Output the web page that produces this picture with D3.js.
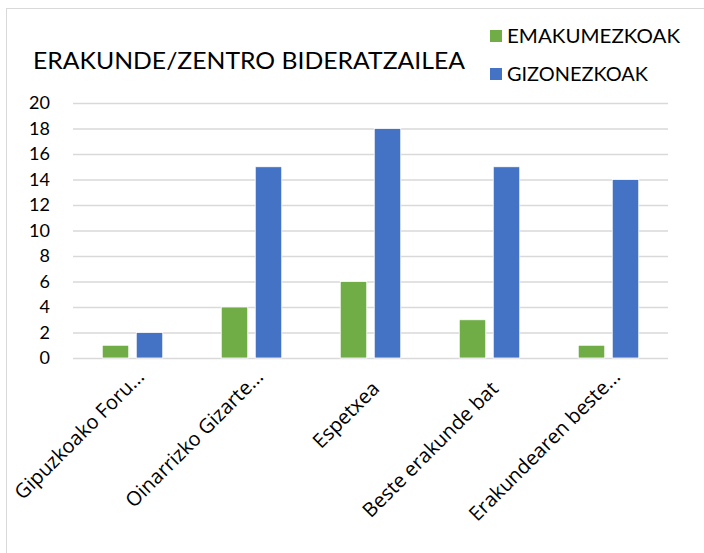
<!DOCTYPE html>
<html>
<head>
<meta charset="utf-8">
<script src="https://cdn.jsdelivr.net/npm/d3@7"></script>
<style>
  body { margin: 0; background: #fff; }
  .lato { font-family: Lato, sans-serif; }
</style>
</head>
<body>
<div id="chart"></div>
<script>
// Data
const categories = ["Gipuzkoako Foru...", "Oinarrizko Gizarte...", "Espetxea", "Beste erakunde bat", "Erakundearen beste..."];
const seriesNames = ["EMAKUMEZKOAK", "GIZONEZKOAK"];
const emakumezkoak = [1, 4, 6, 3, 1];
const gizonezkoak = [2, 15, 18, 15, 14];
const yTicks = [0, 2, 4, 6, 8, 10, 12, 14, 16, 18, 20];
const colors = ["#70AD47", "#4472C4"];

const W = 704, H = 553;
const margin = { top: 103, right: 36, bottom: 195, left: 73 };
const width = W - margin.left - margin.right;
const height = H - margin.top - margin.bottom;

const svg = d3.select("#chart").append("svg")
    .attr("width", W)
    .attr("height", H);

// chart frame
svg.append("rect")
    .attr("x", 6.5).attr("y", 8.5)
    .attr("width", W + 10).attr("height", H + 10)
    .attr("fill", "none")
    .attr("stroke", "#d9d9d9");

// title
svg.append("text")
    .attr("class", "lato")
    .attr("x", 33).attr("y", 69)
    .attr("font-size", 23)
    .attr("textLength", 432)
    .attr("lengthAdjust", "spacingAndGlyphs")
    .text("ERAKUNDE/ZENTRO BIDERATZAILEA");

// legend
const legendWidths = [173, 141];
const legend = svg.append("g");
seriesNames.forEach((name, i) => {
    const yy = 36 + i * 38;
    legend.append("rect")
        .attr("x", 490).attr("y", yy - 6)
        .attr("width", 12).attr("height", 12)
        .attr("fill", colors[i]);
    legend.append("text")
        .attr("class", "lato")
        .attr("x", 507).attr("y", yy)
        .attr("dy", "0.36em")
        .attr("font-size", 19)
        .attr("textLength", legendWidths[i])
        .attr("lengthAdjust", "spacingAndGlyphs")
        .text(name);
});

const g = svg.append("g")
    .attr("transform", `translate(${margin.left},${margin.top})`);

const x = d3.scaleBand()
    .domain(categories)
    .range([0, width])
    .paddingInner(0)
    .paddingOuter(0);

const y = d3.scaleLinear()
    .domain([0, 20])
    .range([height, 0]);

// gridlines
g.append("g")
    .selectAll("line")
    .data(yTicks)
    .enter().append("line")
    .attr("x1", 0).attr("x2", width)
    .attr("y1", d => y(d) + 0.5).attr("y2", d => y(d) + 0.5)
    .attr("stroke", "#d9d9d9")
    .attr("stroke-width", 1.3);

// y axis labels
const yAxis = g.append("g")
    .call(d3.axisLeft(y).tickValues(yTicks).tickSize(0).tickPadding(23))
    .attr("font-family", "Lato, sans-serif")
    .attr("font-size", 18);
yAxis.select(".domain").remove();
yAxis.selectAll("text").attr("fill", "#000");

// bars
const series = [emakumezkoak, gizonezkoak];
const barW = 26.5, gap = 7.5;
series.forEach((vals, s) => {
    g.append("g")
        .selectAll("rect")
        .data(vals)
        .enter().append("rect")
        .attr("x", (d, i) => x(categories[i]) + x.bandwidth() / 2 + (s === 0 ? -gap / 2 - barW : gap / 2))
        .attr("y", d => y(d))
        .attr("width", barW)
        .attr("height", d => height - y(d))
        .attr("fill", colors[s])
        .attr("stroke", "#ffffff")
        .attr("stroke-width", 0.8);
});

// x axis labels (rotated, truncated ones sit a bit further up)
const xAxis = g.append("g")
    .attr("transform", `translate(0,${height})`)
    .call(d3.axisBottom(x).tickSize(0).tickPadding(0))
    .attr("font-family", "'Open Sans', sans-serif")
    .attr("font-size", 20);
xAxis.select(".domain").remove();
xAxis.selectAll("text")
    .attr("fill", "#000")
    .attr("text-anchor", "end")
    .attr("dy", 0)
    .attr("y", 0)
    .attr("transform", d => d.endsWith("...")
        ? "translate(13,20) rotate(-45)"
        : "translate(10,32) rotate(-45)");
</script>
</body>
</html>
